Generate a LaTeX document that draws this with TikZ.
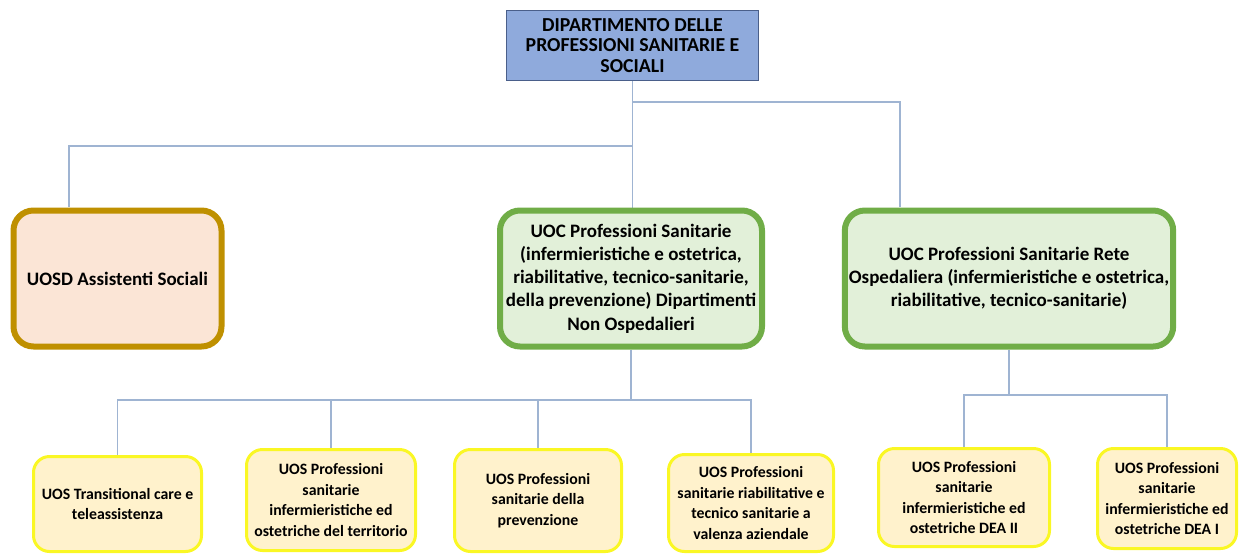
\documentclass[tikz,border=0pt]{standalone}
\usepackage{fontspec}
\setmainfont{Carlito}
\usepackage{tikz}
\usetikzlibrary{positioning,backgrounds}
\definecolor{dipfill}{HTML}{8FAADC}
\definecolor{dipline}{HTML}{4A5F8A}
\definecolor{socline}{HTML}{BF9000}
\definecolor{socfill}{HTML}{FBE5D6}
\definecolor{uocline}{HTML}{70AD47}
\definecolor{uocfill}{HTML}{E2F0D9}
\definecolor{uosline}{HTML}{FAF724}
\definecolor{uosfill}{HTML}{FFF2CC}
\definecolor{connline}{HTML}{9FB4D2}
\tikzset{
    every node/.style={font=\bfseries\fontsize{9.5}{11.6}\selectfont,align=center,inner sep=2pt},
    dip/.style={draw=dipline,fill=dipfill,line width=0.6pt,minimum width=126pt,minimum height=35pt,
        font=\bfseries\fontsize{9.9}{10.4}\selectfont},
    soc/.style={draw=socline,fill=socfill,line width=3pt,rounded corners=10pt,minimum width=104pt,minimum height=68pt},
    uoc/.style={draw=uocline,fill=uocfill,line width=3pt,rounded corners=10pt,minimum height=68pt},
    uos/.style={draw=uosline,fill=uosfill,line width=1.5pt,rounded corners=8pt,
        font=\bfseries\fontsize{7.9}{10.3}\selectfont},
    conn/.style={draw=connline,line width=0.6pt}
}
\begin{document}
\begin{tikzpicture}[x=0.5pt,y=-0.5pt]
        \useasboundingbox (0,0) rectangle (1243,558);
        \node[dip] (dip) at (632.5,45.5) {DIPARTIMENTO DELLE\\PROFESSIONI SANITARIE E\\SOCIALI};
        % second level
        \node[soc] (soc) at (117.5,278.5) {UOSD Assistenti Sociali};
        \node[uoc,minimum width=131pt] (uocA) at (631,278.5) {UOC Professioni Sanitarie\\(infermieristiche e ostetrica,\\riabilitative, tecnico-sanitarie,\\della prevenzione) Dipartimenti\\Non Ospedalieri};
        \node[uoc,minimum width=161pt] (uocB) at (1009,278.5) {UOC Professioni Sanitarie Rete\\Ospedaliera (infermieristiche e ostetrica,\\riabilitative, tecnico-sanitarie)};
        % third level
        \node[uos,minimum width=84pt,minimum height=47.5pt] (uos1) at (117.5,504) {UOS Transitional care e\\teleassistenza};
        \node[uos,minimum width=84.5pt,minimum height=50.5pt] (uos2) at (331,500) {UOS Professioni\\sanitarie\\infermieristiche ed\\ostetriche del territorio};
        \node[uos,minimum width=83.5pt,minimum height=51pt] (uos3) at (538,500.5) {UOS Professioni\\sanitarie della\\prevenzione};
        \node[uos,minimum width=82.5pt,minimum height=48.5pt] (uos4) at (751,503) {UOS Professioni\\sanitarie riabilitative e\\tecnico sanitarie a\\valenza aziendale};
        \node[uos,minimum width=85.5pt,minimum height=49pt] (uos5) at (964,497.5) {UOS Professioni\\sanitarie\\infermieristiche ed\\ostetriche DEA II};
        \node[uos,minimum width=69.5pt,minimum height=50pt] (uos6) at (1167,498.5) {UOS Professioni\\sanitarie\\infermieristiche ed\\ostetriche DEA I};
        % branch points
        \coordinate (jsoc) at (632.5,146);
        \coordinate (jB) at (632.5,102);
        \coordinate (topB) at (900,207);
        \coordinate (topsoc) at (69,207);
        \coordinate (bA) at (631,400);
        \coordinate (bB) at (1009,395);
        
        \begin{scope}[on background layer]
            \draw[conn] (dip.south) -- (dip.south |- uocA.north);
            \draw[conn] (jsoc) -| (topsoc);
            \draw[conn] (jB) -| (topB);
            \draw[conn] (uocA.south) -- (bA);
            \foreach \n in {uos1,uos2,uos3,uos4}
                \draw[conn] (bA) -| (\n.north);
            \draw[conn] (uocB.south) -- (bB);
            \foreach \n in {uos5,uos6}
                \draw[conn] (bB) -| (\n.north);
        \end{scope}
    \end{tikzpicture}
\end{document}
